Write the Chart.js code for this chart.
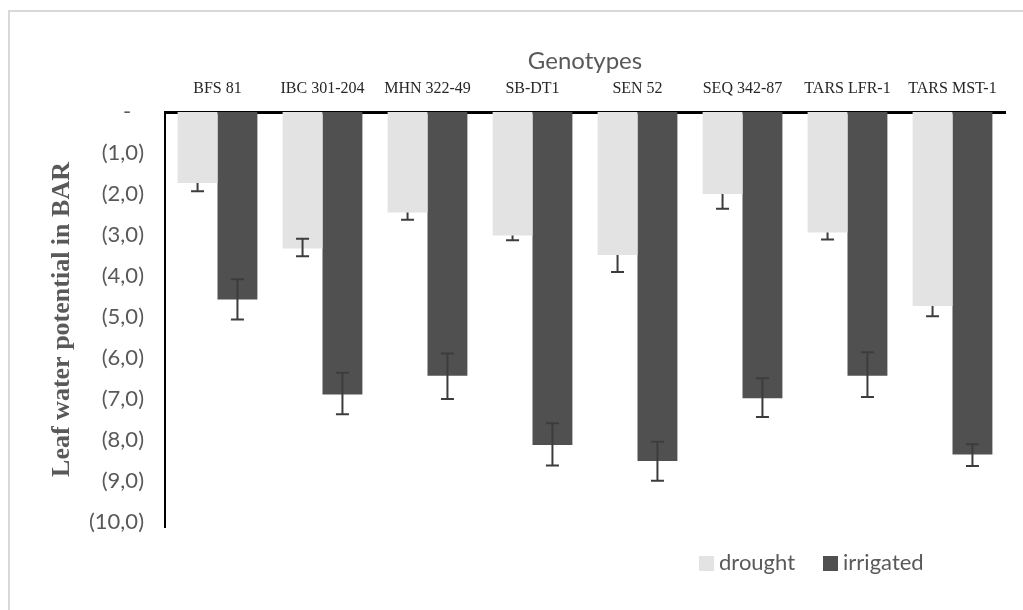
<!DOCTYPE html>
<html>
<head>
<meta charset="utf-8">
<script src="https://cdn.jsdelivr.net/npm/chart.js@4"></script>
<style>
  body { margin: 0; background: #fff; }
  #wrap { position: absolute; left: 0; top: 0; width: 1023px; height: 610px; }
  #frame { position: absolute; left: 8px; top: 10px; width: 1030px; height: 620px;
    border-left: 2px solid #d9d9d9; border-top: 2px solid #d9d9d9; }
  #legend { position: absolute; left: 699px; top: 548px; font-family: Lato, sans-serif;
    font-size: 22px; color: #595959; display: flex; gap: 28px; }
  #legend span.box { display: inline-block; width: 15px; height: 15px; margin-right: 5px;
    vertical-align: -1px; }
</style>
</head>
<body>
<div id="wrap">
  <div id="frame"></div>
  <canvas id="chart" width="1023" height="610"></canvas>
  <div id="legend"></div>
</div>
<script>
const genotypes = ["BFS 81", "IBC 301-204", "MHN 322-49", "SB-DT1", "SEN 52",
  "SEQ 342-87", "TARS LFR-1", "TARS MST-1"];

// leaf water potential (bar)
const drought = [-1.73, -3.33, -2.45, -3.01, -3.49, -2.00, -2.94, -4.73];
const droughtErrDown = [0.20, 0.19, 0.18, 0.12, 0.41, 0.36, 0.17, 0.25];
const droughtErrUp = [0, 0.24, 0, 0, 0, 0, 0, 0];

const irrigated = [-4.57, -6.89, -6.43, -8.12, -8.51, -6.98, -6.43, -8.35];
const irrigatedErrDown = [0.49, 0.48, 0.57, 0.50, 0.48, 0.46, 0.52, 0.28];
const irrigatedErrUp = [0.49, 0.53, 0.54, 0.53, 0.47, 0.49, 0.57, 0.25];

const yTicks = [0, -1, -2, -3, -4, -5, -6, -7, -8, -9, -10];

const errorBars = {
  id: "errorBars",
  afterDatasetsDraw(chart) {
    const ctx = chart.ctx;
    const y = chart.scales.y;
    chart.data.datasets.forEach((ds, di) => {
      const meta = chart.getDatasetMeta(di);
      meta.data.forEach((bar, i) => {
        const v = ds.data[i];
        const lo = y.getPixelForValue(v - ds.errDown[i]);
        const hi = y.getPixelForValue(v + ds.errUp[i]);
        ctx.save();
        ctx.strokeStyle = "#3c3c3c";
        ctx.lineWidth = 2;
        ctx.beginPath();
        ctx.moveTo(bar.x, hi);
        ctx.lineTo(bar.x, lo);
        ctx.moveTo(bar.x - 6.5, lo);
        ctx.lineTo(bar.x + 6.5, lo);
        if (ds.errUp[i] > 0) {
          ctx.moveTo(bar.x - 6.5, hi);
          ctx.lineTo(bar.x + 6.5, hi);
        }
        ctx.stroke();
        ctx.restore();
      });
    });
  },
};

const chart = new Chart(document.getElementById("chart"), {
  type: "bar",
  data: {
    labels: genotypes,
    datasets: [
      { label: "drought", data: drought, errDown: droughtErrDown, errUp: droughtErrUp,
        backgroundColor: "#e3e3e3" },
      { label: "irrigated", data: irrigated, errDown: irrigatedErrDown, errUp: irrigatedErrUp,
        backgroundColor: "#505050" },
    ],
  },
  options: {
    responsive: false,
    animation: false,
    layout: { padding: { left: 0, top: 0, right: 18, bottom: 83 } },
    categoryPercentage: 0.76,
    barPercentage: 1.0,
    plugins: { legend: { display: false }, tooltip: { enabled: false } },
    scales: {
      x: {
        position: "top",
        afterFit: (s) => { s.height = 112; },
        grid: { display: false, drawTicks: false },
        border: { display: true, color: "#000", width: 3 },
        ticks: { color: "#262626", padding: 14, maxRotation: 0, autoSkip: false,
          font: { family: "'Liberation Serif', serif", size: 16 } },
        title: { display: true, text: "Genotypes", color: "#595959",
          padding: { top: 47, bottom: 0 }, font: { family: "Lato, sans-serif", size: 24 } },
      },
      y: {
        min: -10.12,
        max: 0,
        afterFit: (s) => { s.width = 165; },
        afterBuildTicks: (s) => { s.ticks = yTicks.map((v) => ({ value: v })); },
        grid: { display: false, drawTicks: false },
        border: { display: true, color: "#000", width: 2 },
        ticks: {
          color: "#595959", padding: 21,
          font: { family: "Lato, sans-serif", size: 22 },
          callback: (v) => v === 0 ? "-\u2007" : "(" + Math.abs(v).toFixed(1).replace(".", ",") + ")",
        },
        title: { display: true, text: "Leaf water potential in BAR", color: "#595959",
          padding: { top: 47, bottom: 0 },
          font: { family: "'Liberation Serif', serif", size: 26, weight: "bold" } },
      },
    },
  },
  plugins: [errorBars],
});

const legend = document.getElementById("legend");
chart.data.datasets.forEach((ds) => {
  const item = document.createElement("div");
  item.innerHTML = '<span class="box" style="background:' + ds.backgroundColor + '"></span>' + ds.label;
  legend.appendChild(item);
});
</script>
</body>
</html>
